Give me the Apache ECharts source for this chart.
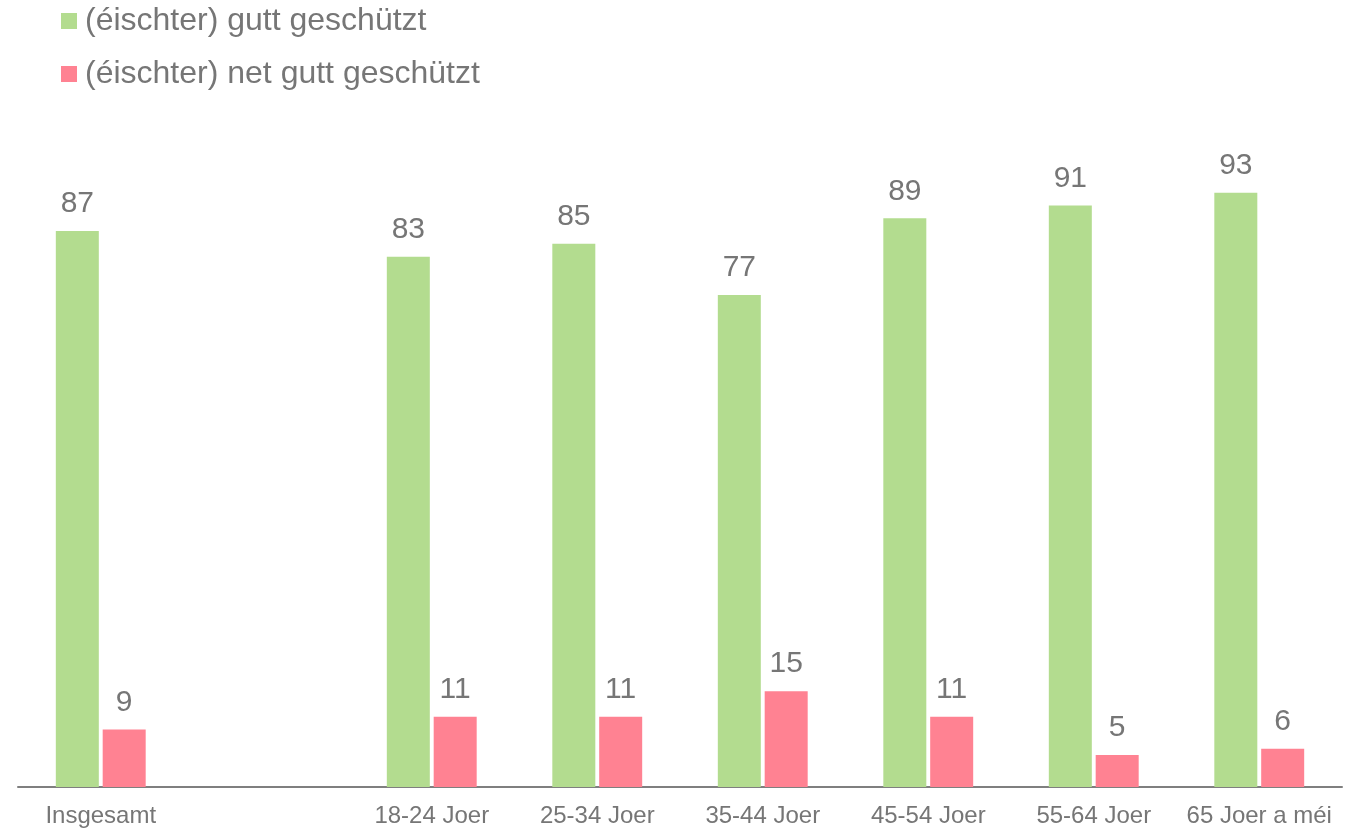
<!DOCTYPE html>
<html>
<head>
<meta charset="utf-8">
<script src="https://cdn.jsdelivr.net/npm/echarts@6/dist/echarts.min.js"></script>
<style>
  html, body { margin: 0; padding: 0; background: #fff; }
  #container { width: 1363px; height: 831px; }
</style>
</head>
<body>
<div id="container"></div>
<script>
  // Kategorien (die zweite bleibt leer, wie im Original)
  const categories = ['Insgesamt', '', '18-24 Joer', '25-34 Joer', '35-44 Joer', '45-54 Joer', '55-64 Joer', '65 Joer a méi']
  const seriesNames = ['(éischter) gutt geschützt', '(éischter) net gutt geschützt']
  const guttValues = [87, null, 83, 85, 77, 89, 91, 93]
  const netGuttValues = [9, null, 11, 11, 15, 11, 5, 6]

  const myChart = echarts.init(document.getElementById('container'))

  const labelStyle = {
    show: true,
    position: 'top',
    distance: 12,
    color: '#767676',
    fontSize: 30,
    fontFamily: 'Liberation Sans'
  }

  const option = {
    animation: false,
    textStyle: { fontFamily: 'Liberation Sans' },
    legend: {
      orient: 'vertical',
      left: 56,
      top: 0,
      itemWidth: 16,
      itemHeight: 16,
      itemGap: 21,
      icon: 'rect',
      textStyle: { color: '#767676', fontSize: 32, fontFamily: 'Liberation Sans', padding: [0, 0, 0, 3] },
      data: seriesNames
    },
    grid: {
      left: 18,
      right: 21,
      top: 148,
      bottom: 44
    },
    xAxis: {
      type: 'category',
      data: categories,
      axisLine: { lineStyle: { color: '#7f7f7f', width: 2 } },
      axisTick: { show: false },
      axisLabel: { color: '#767676', fontSize: 24, margin: 17, interval: 0 }
    },
    yAxis: {
      type: 'value',
      min: 0,
      max: 100,
      show: false,
      splitLine: { show: false }
    },
    series: [
      {
        name: seriesNames[0],
        type: 'bar',
        barWidth: 43,
        barGap: '9%',
        itemStyle: { color: '#b3dc8f' },
        label: labelStyle,
        data: guttValues
      },
      {
        name: seriesNames[1],
        type: 'bar',
        barWidth: 43,
        itemStyle: { color: '#ff8292' },
        label: labelStyle,
        data: netGuttValues
      }
    ]
  }

  myChart.setOption(option)
</script>
</body>
</html>
